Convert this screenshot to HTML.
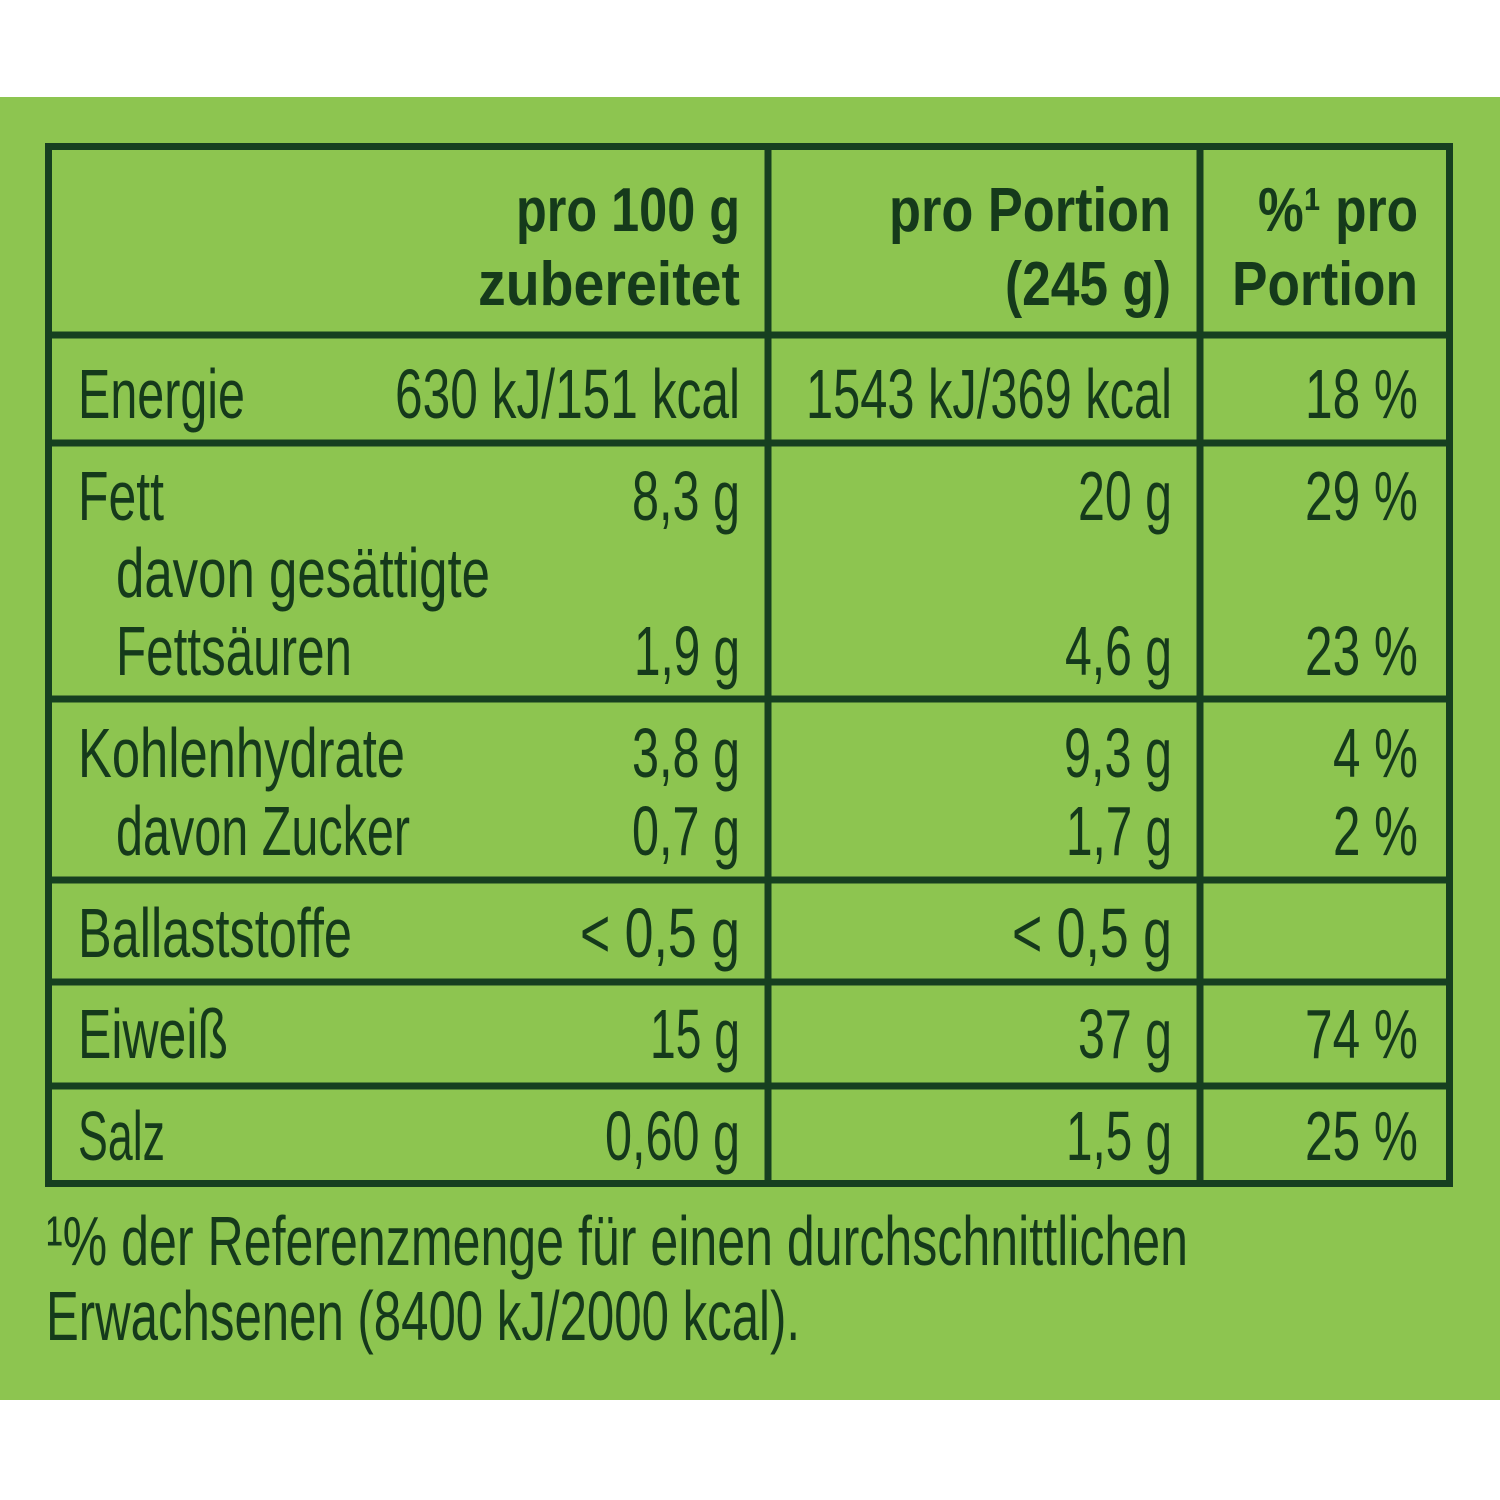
<!DOCTYPE html>
<html><head><meta charset="utf-8"><style>
html,body{margin:0;padding:0;background:#fff;}
svg{display:block;}
text{font-family:"Liberation Sans Narrow","Liberation Sans",sans-serif;fill:#153a1b;}
.b{font-weight:bold;font-size:62px;}
.r{font-size:70px;}
</style></head><body>
<svg width="1500" height="1500" viewBox="0 0 1500 1500" xmlns="http://www.w3.org/2000/svg">
<rect x="0" y="0" width="1500" height="1500" fill="#fff"/>
<rect x="0" y="97" width="1500" height="1303" fill="#8dc550"/>
<g stroke="#163f20" stroke-width="7" fill="none">
<rect x="48.5" y="146.5" width="1401" height="1037"/>
<line x1="768" y1="146" x2="768" y2="1184"/>
<line x1="1200" y1="146" x2="1200" y2="1184"/>
<line x1="48" y1="335" x2="1450" y2="335"/>
<line x1="48" y1="443" x2="1450" y2="443"/>
<line x1="48" y1="699" x2="1450" y2="699"/>
<line x1="48" y1="880" x2="1450" y2="880"/>
<line x1="48" y1="982" x2="1450" y2="982"/>
<line x1="48" y1="1086" x2="1450" y2="1086"/>
</g>
<g class="b">
<text x="516" y="231" textLength="224" lengthAdjust="spacingAndGlyphs">pro 100 g</text>
<text x="478" y="305" textLength="262" lengthAdjust="spacingAndGlyphs">zubereitet</text>
<text x="889" y="231" textLength="282" lengthAdjust="spacingAndGlyphs">pro Portion</text>
<text x="1005" y="305" textLength="166" lengthAdjust="spacingAndGlyphs">(245 g)</text>
<text x="1258" y="231" textLength="160" lengthAdjust="spacingAndGlyphs">%¹ pro</text>
<text x="1232" y="305" textLength="186" lengthAdjust="spacingAndGlyphs">Portion</text>
</g>
<g class="r">
<text x="78" y="418" textLength="167" lengthAdjust="spacingAndGlyphs">Energie</text>
<text x="395" y="418" textLength="345" lengthAdjust="spacingAndGlyphs">630 kJ/151 kcal</text>
<text x="806" y="418" textLength="366" lengthAdjust="spacingAndGlyphs">1543 kJ/369 kcal</text>
<text x="1305" y="418" textLength="113" lengthAdjust="spacingAndGlyphs">18 %</text>

<text x="78" y="520" textLength="86" lengthAdjust="spacingAndGlyphs">Fett</text>
<text x="632" y="520" textLength="108" lengthAdjust="spacingAndGlyphs">8,3 g</text>
<text x="1078" y="520" textLength="94" lengthAdjust="spacingAndGlyphs">20 g</text>
<text x="1305" y="520" textLength="113" lengthAdjust="spacingAndGlyphs">29 %</text>
<text x="116" y="597" textLength="374" lengthAdjust="spacingAndGlyphs">davon gesättigte</text>
<text x="116" y="675" textLength="236" lengthAdjust="spacingAndGlyphs">Fettsäuren</text>
<text x="634" y="675" textLength="106" lengthAdjust="spacingAndGlyphs">1,9 g</text>
<text x="1065" y="675" textLength="107" lengthAdjust="spacingAndGlyphs">4,6 g</text>
<text x="1305" y="675" textLength="113" lengthAdjust="spacingAndGlyphs">23 %</text>

<text x="78" y="777" textLength="327" lengthAdjust="spacingAndGlyphs">Kohlenhydrate</text>
<text x="632" y="777" textLength="108" lengthAdjust="spacingAndGlyphs">3,8 g</text>
<text x="1064" y="777" textLength="108" lengthAdjust="spacingAndGlyphs">9,3 g</text>
<text x="1333" y="777" textLength="85" lengthAdjust="spacingAndGlyphs">4 %</text>
<text x="116" y="855" textLength="294" lengthAdjust="spacingAndGlyphs">davon Zucker</text>
<text x="632" y="855" textLength="108" lengthAdjust="spacingAndGlyphs">0,7 g</text>
<text x="1066" y="855" textLength="106" lengthAdjust="spacingAndGlyphs">1,7 g</text>
<text x="1333" y="855" textLength="85" lengthAdjust="spacingAndGlyphs">2 %</text>

<text x="78" y="957" textLength="274" lengthAdjust="spacingAndGlyphs">Ballaststoffe</text>
<text x="580" y="957" textLength="160" lengthAdjust="spacingAndGlyphs">&lt; 0,5 g</text>
<text x="1012" y="957" textLength="160" lengthAdjust="spacingAndGlyphs">&lt; 0,5 g</text>

<text x="78" y="1058" textLength="150" lengthAdjust="spacingAndGlyphs">Eiweiß</text>
<text x="650" y="1058" textLength="90" lengthAdjust="spacingAndGlyphs">15 g</text>
<text x="1078" y="1058" textLength="94" lengthAdjust="spacingAndGlyphs">37 g</text>
<text x="1305" y="1058" textLength="113" lengthAdjust="spacingAndGlyphs">74 %</text>

<text x="78" y="1160" textLength="87" lengthAdjust="spacingAndGlyphs">Salz</text>
<text x="605" y="1160" textLength="135" lengthAdjust="spacingAndGlyphs">0,60 g</text>
<text x="1066" y="1160" textLength="106" lengthAdjust="spacingAndGlyphs">1,5 g</text>
<text x="1305" y="1160" textLength="113" lengthAdjust="spacingAndGlyphs">25 %</text>

<text x="46" y="1265" textLength="1142" lengthAdjust="spacingAndGlyphs">¹% der Referenzmenge für einen durchschnittlichen</text>
<text x="46" y="1340" textLength="754" lengthAdjust="spacingAndGlyphs">Erwachsenen (8400 kJ/2000 kcal).</text>
</g>
</svg>
</body></html>
